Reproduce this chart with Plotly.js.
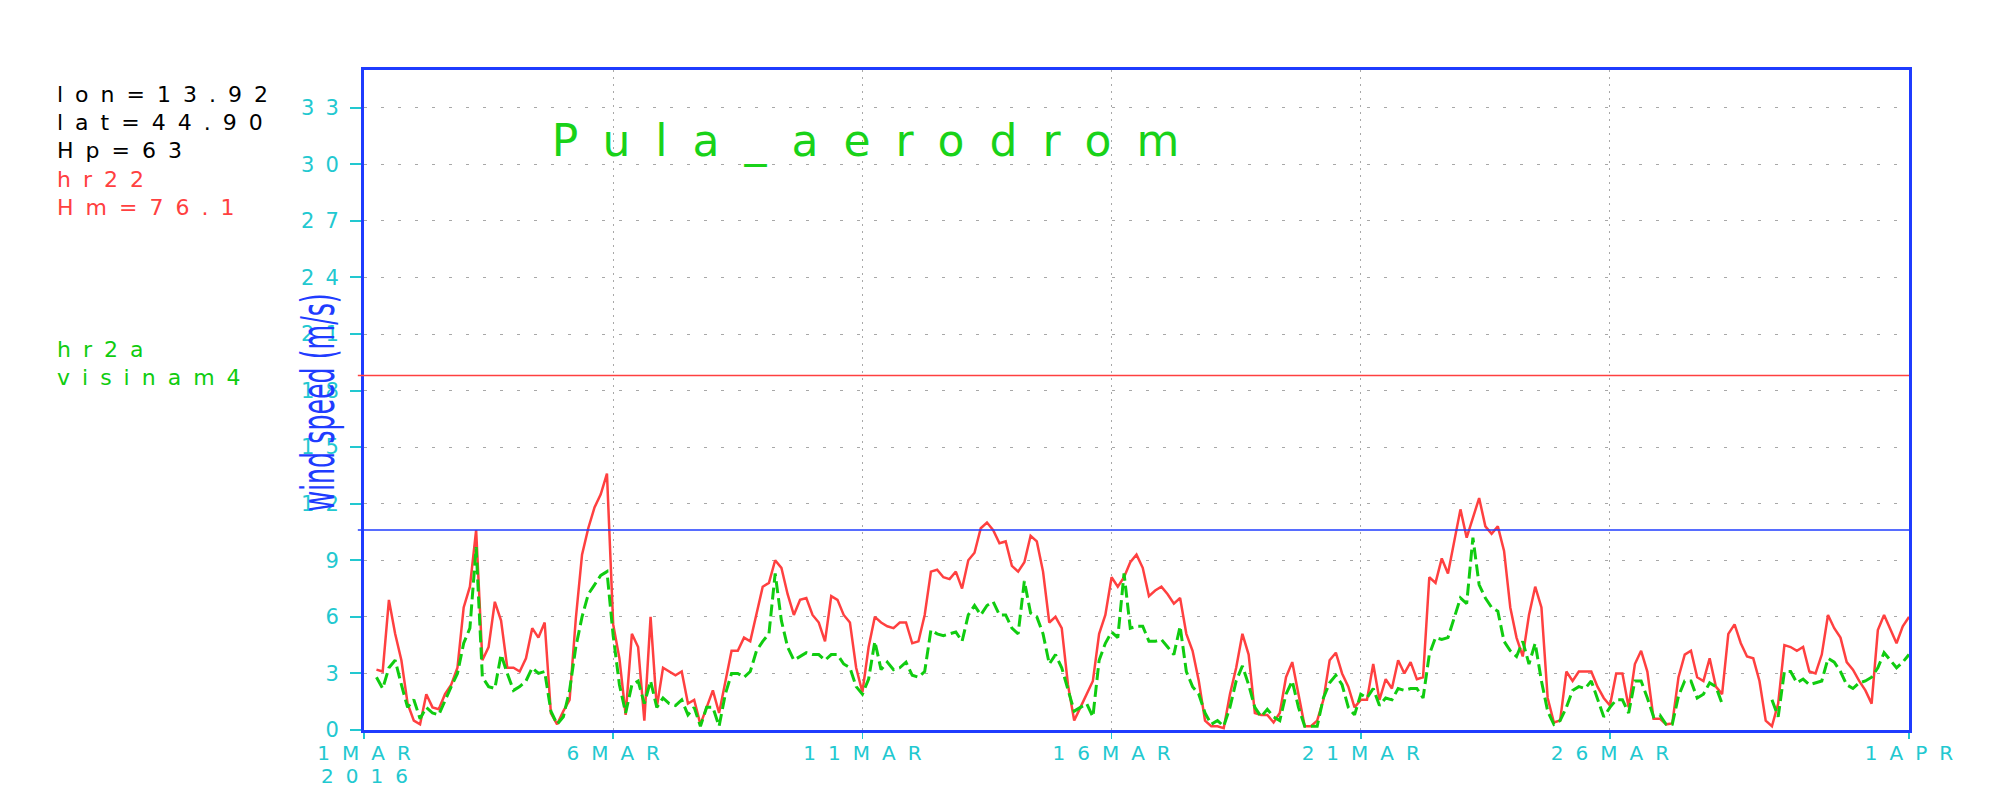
<!DOCTYPE html>
<html>
<head>
<meta charset="utf-8">
<script src="https://cdn.plot.ly/plotly-3.0.1.min.js"></script>
<style>
  html, body { margin: 0; padding: 0; background: #ffffff; }
  .xtick text { letter-spacing: 12px; }
  .ytick text { letter-spacing: 11px; }
  .annotation-text { letter-spacing: 12px; }
  .gtitle { letter-spacing: 25px; }
</style>
</head>
<body>
<div id="chart" style="width:2000px;height:800px;"></div>
<script>
// ---- data (3-hourly, starting 2016-03-01 00:00) ----
const startTime = '2016-03-01T00:00:00Z';
const stepHours = 3;

// hr22 (red, solid)
const hr22 = [
  null, null, 3.2, 3.1, 6.9, 5.1, 3.7, 1.4,
  0.5, 0.3, 1.9, 1.2, 1.1, 1.9, 2.4, 3.3,
  6.5, 7.6, 10.6, 3.7, 4.4, 6.8, 5.8, 3.3,
  3.3, 3.1, 3.8, 5.4, 4.9, 5.7, 0.9, 0.3,
  1.0, 1.6, 5.9, 9.3, 10.7, 11.8, 12.5, 13.6,
  5.6, 3.8, 0.8, 5.1, 4.4, 0.5, 6.0, 1.2,
  3.3, 3.1, 2.9, 3.1, 1.4, 1.6, 0.3, 1.2,
  2.1, 0.9, 2.6, 4.2, 4.2, 4.9, 4.7, 6.1,
  7.6, 7.8, 9.0, 8.6, 7.2, 6.1, 6.9, 7.0,
  6.1, 5.7, 4.7, 7.1, 6.9, 6.1, 5.7, 3.3,
  2.0, 4.4, 6.0, 5.7, 5.5, 5.4, 5.7, 5.7,
  4.6, 4.7, 6.1, 8.4, 8.5, 8.1, 8.0, 8.4,
  7.5, 9.0, 9.4, 10.7, 11.0, 10.6, 9.9, 10.0,
  8.7, 8.4, 8.9, 10.3, 10.0, 8.4, 5.7, 6.0,
  5.4, 2.4, 0.5, 1.2, 1.9, 2.6, 5.1, 6.1,
  8.1, 7.6, 8.1, 8.9, 9.3, 8.6, 7.1, 7.4,
  7.6, 7.2, 6.7, 7.0, 5.1, 4.2, 2.6, 0.5,
  0.2, 0.2, 0.1, 1.9, 3.3, 5.1, 4.0, 0.9,
  0.8, 0.8, 0.4, 0.9, 2.8, 3.6, 1.9, 0.2,
  0.2, 0.5, 1.6, 3.7, 4.1, 3.0, 2.3, 1.2,
  1.6, 1.6, 3.5, 1.6, 2.7, 2.2, 3.7, 3.0,
  3.6, 2.7, 2.8, 8.1, 7.8, 9.1, 8.3, 10.0,
  11.7, 10.2, 11.2, 12.3, 10.8, 10.4, 10.8, 9.5,
  6.5, 4.9, 3.9, 6.1, 7.6, 6.5, 1.7, 0.4,
  0.5, 3.1, 2.6, 3.1, 3.1, 3.1, 2.3, 1.7,
  1.3, 3.0, 3.0, 1.2, 3.5, 4.2, 3.1, 0.6,
  0.6, 0.3, 0.35, 2.8, 4.0, 4.2, 2.8, 2.6,
  3.8, 2.3, 1.9, 5.1, 5.6, 4.6, 3.9, 3.8,
  2.6, 0.5, 0.2, 1.4, 4.5, 4.4, 4.2, 4.4,
  3.1, 3.0, 4.0, 6.1, 5.4, 4.9, 3.6, 3.2,
  2.6, 2.1, 1.4, 5.3, 6.1, 5.3, 4.6, 5.5,
  6.0
];

// hr2a visinam4 (green, dashed)
const hr2a = [
  null, null, 2.8, 2.2, 3.3, 3.7, 2.4, 1.2,
  1.6, 0.6, 1.2, 0.9, 0.8, 1.6, 2.3, 3.0,
  4.6, 5.4, 9.7, 2.8, 2.3, 2.2, 4.0, 3.0,
  2.1, 2.3, 2.6, 3.3, 3.0, 3.1, 1.0, 0.3,
  0.7, 2.1, 4.4, 6.0, 7.2, 7.7, 8.2, 8.4,
  5.0, 2.4, 0.9, 2.4, 2.6, 1.4, 2.6, 1.2,
  1.7, 1.4, 1.3, 1.6, 0.8, 1.2, 0.2, 1.2,
  1.2, 0.2, 1.9, 3.0, 3.0, 2.8, 3.1, 4.2,
  4.7, 5.1, 8.3, 5.8, 4.4, 3.7, 3.9, 4.1,
  4.0, 4.0, 3.7, 4.0, 4.0, 3.5, 3.3, 2.3,
  1.9, 2.7, 4.7, 3.2, 3.6, 3.2, 3.3, 3.6,
  2.9, 2.8, 3.1, 5.3, 5.1, 5.0, 5.1, 5.2,
  4.7, 6.1, 6.6, 6.1, 6.6, 6.8, 6.1, 6.1,
  5.4, 5.1, 7.9, 6.2, 6.0, 5.1, 3.5, 4.0,
  3.3, 2.1, 1.0, 1.2, 1.4, 0.7, 3.7, 4.6,
  5.2, 4.9, 8.3, 5.4, 5.5, 5.5, 4.7, 4.7,
  4.8, 4.4, 4.0, 5.5, 3.1, 2.3, 1.9, 0.9,
  0.3, 0.5, 0.2, 1.2, 2.6, 3.4, 2.4, 1.2,
  0.7, 1.1, 0.7, 0.5, 1.9, 2.6, 1.2, 0.2,
  0.2, 0.2, 1.7, 2.5, 2.9, 2.4, 1.2, 0.8,
  1.9, 1.7, 2.2, 1.3, 1.7, 1.6, 2.2, 2.1,
  2.2, 2.2, 1.7, 4.0, 4.9, 4.8, 4.9, 6.0,
  7.0, 6.7, 10.2, 7.7, 7.0, 6.5, 6.3, 4.7,
  4.2, 3.9, 4.7, 3.5, 4.6, 2.6, 1.0, 0.3,
  0.5, 1.2, 2.1, 2.3, 2.2, 2.6, 1.6, 0.7,
  1.2, 1.6, 1.6, 0.9, 2.6, 2.6, 1.7, 0.7,
  0.8, 0.3, 0.3, 1.8, 2.6, 2.6, 1.7, 1.9,
  2.5, 2.3, 1.4, null, null, null, null, null,
  null, null, 1.6, 0.7, 3.1, 3.1, 2.5, 2.7,
  2.4, 2.5, 2.6, 3.8, 3.6, 3.1, 2.4, 2.2,
  2.5, 2.6, 2.8, 3.3, 4.1, 3.7, 3.3, 3.6,
  4.0
];

// axis ticks
const xTickVals = ['2016-03-01', '2016-03-06', '2016-03-11', '2016-03-16', '2016-03-21', '2016-03-26', '2016-04-01'];
const xTickText = ['1MAR', '6MAR', '11MAR', '16MAR', '21MAR', '26MAR', '1APR'];
const yTickVals = [0, 3, 6, 9, 12, 15, 18, 21, 24, 27, 30, 33];
const yearLabel = '2016';

// threshold lines
const redLevel = 18.8;
const blueLevel = 10.6;

// station info text
const infoBlack = ['lon=13.92', 'lat=44.90', 'Hp=63'];
const infoRed = ['hr22', 'Hm=76.1'];
const infoGreen = ['hr2a', 'visinam4'];
const chartTitle = 'Pula_aerodrom';
const yTitle = 'wind speed (m/s)';

// ---- build times ----
const t0 = new Date(startTime).getTime();
function timeAt(i) {
  return new Date(t0 + i * stepHours * 3600 * 1000).toISOString().slice(0, 16).replace('T', ' ');
}
const times = hr22.map((_, i) => timeAt(i));

const RED = '#ff4040';
const GREEN = '#10cc10';
const BLUE = '#1f3cff';
const CYAN = '#22c8d0';
const FONT = 'DejaVu Sans, Liberation Sans, sans-serif';

const traces = [
  { x: times, y: hr22, type: 'scatter', mode: 'lines', name: 'hr22',
    line: { color: RED, width: 2.5 }, connectgaps: false, showlegend: false },
  { x: times, y: hr2a, type: 'scatter', mode: 'lines', name: 'hr2a visinam4',
    line: { color: GREEN, width: 3, dash: '12px,5px' }, connectgaps: false, showlegend: false }
];

// layout geometry
const M = { l: 364, r: 91, t: 70, b: 70 };
const W = 2000, H = 800;
const PW = W - M.l - M.r, PH = H - M.t - M.b;
function px2paperX(px) { return (px - M.l) / PW; }
function px2paperY(py) { return (H - M.b - py) / PH; }

const annotations = [];
const infoRows = [
  [infoBlack[0], '#000000', 94], [infoBlack[1], '#000000', 122.5], [infoBlack[2], '#000000', 151],
  [infoRed[0], RED, 179], [infoRed[1], RED, 207.5],
  [infoGreen[0], GREEN, 349], [infoGreen[1], GREEN, 377]
];
infoRows.forEach(r => {
  annotations.push({ text: r[0], xref: 'paper', yref: 'paper', x: px2paperX(55), y: px2paperY(r[2]),
    xanchor: 'left', yanchor: 'middle', showarrow: false, font: { family: FONT, size: 22, color: r[1] } });
});
annotations.push({ text: yearLabel, xref: 'x', yref: 'paper', x: xTickVals[0], y: px2paperY(776),
  xanchor: 'center', yanchor: 'middle', xshift: 6, showarrow: false, font: { family: FONT, size: 20, color: CYAN } });
annotations.push({ text: yTitle, xref: 'paper', yref: 'paper', x: px2paperX(318), y: px2paperY(403),
  xanchor: 'center', yanchor: 'middle', textangle: -90, showarrow: false, font: { family: FONT, size: 46, color: BLUE } });

const layout = {
  width: W, height: H, margin: M,
  paper_bgcolor: '#ffffff', plot_bgcolor: '#ffffff',
  font: { family: FONT },
  showlegend: false,
  title: { text: chartTitle, font: { family: FONT, size: 44, color: '#19d219' },
    xref: 'container', yref: 'container', x: 878 / W, xanchor: 'center', y: 1 - 141 / H, yanchor: 'middle' },
  xaxis: {
    type: 'date', range: ['2016-03-01', '2016-04-01'],
    tickmode: 'array', tickvals: xTickVals, ticktext: xTickText,
    ticks: 'outside', ticklen: 6, tickwidth: 1.5, tickcolor: CYAN, ticklabelshift: 6, ticklabelstandoff: -3,
    tickfont: { family: FONT, size: 20, color: CYAN },
    showline: true, linecolor: BLUE, linewidth: 3, mirror: true,
    showgrid: true, gridcolor: '#a8a8a8', gridwidth: 1, griddash: '2px,5px',
    zeroline: false, fixedrange: true
  },
  yaxis: {
    range: [0, 35], tickmode: 'array', tickvals: yTickVals,
    ticks: 'outside', ticklen: 11, tickwidth: 2, tickcolor: CYAN, ticklabelstandoff: -4,
    tickfont: { family: FONT, size: 21, color: CYAN },
    showline: true, linecolor: BLUE, linewidth: 3, mirror: true,
    showgrid: true, gridcolor: '#a8a8a8', gridwidth: 1, griddash: '3px,14px',
    zeroline: false, fixedrange: true
  },
  shapes: [
    { type: 'line', xref: 'paper', yref: 'y', x0: -0.004, x1: 1, y0: redLevel, y1: redLevel,
      line: { color: RED, width: 1.5 }, layer: 'above' },
    { type: 'line', xref: 'paper', yref: 'y', x0: -0.004, x1: 1, y0: blueLevel, y1: blueLevel,
      line: { color: BLUE, width: 1.5 }, layer: 'above' }
  ],
  annotations: annotations
};

Plotly.newPlot('chart', traces, layout, { staticPlot: true, displayModeBar: false }).then(gd => {
  gd.querySelectorAll('.annotation-text').forEach(t => {
    if (t.textContent === yTitle) {
      t.style.letterSpacing = '0px';
      t.style.transformBox = 'fill-box';
      t.style.transformOrigin = 'center';
      t.style.transform = 'scaleX(0.55)';
    }
  });
});
</script>
</body>
</html>
